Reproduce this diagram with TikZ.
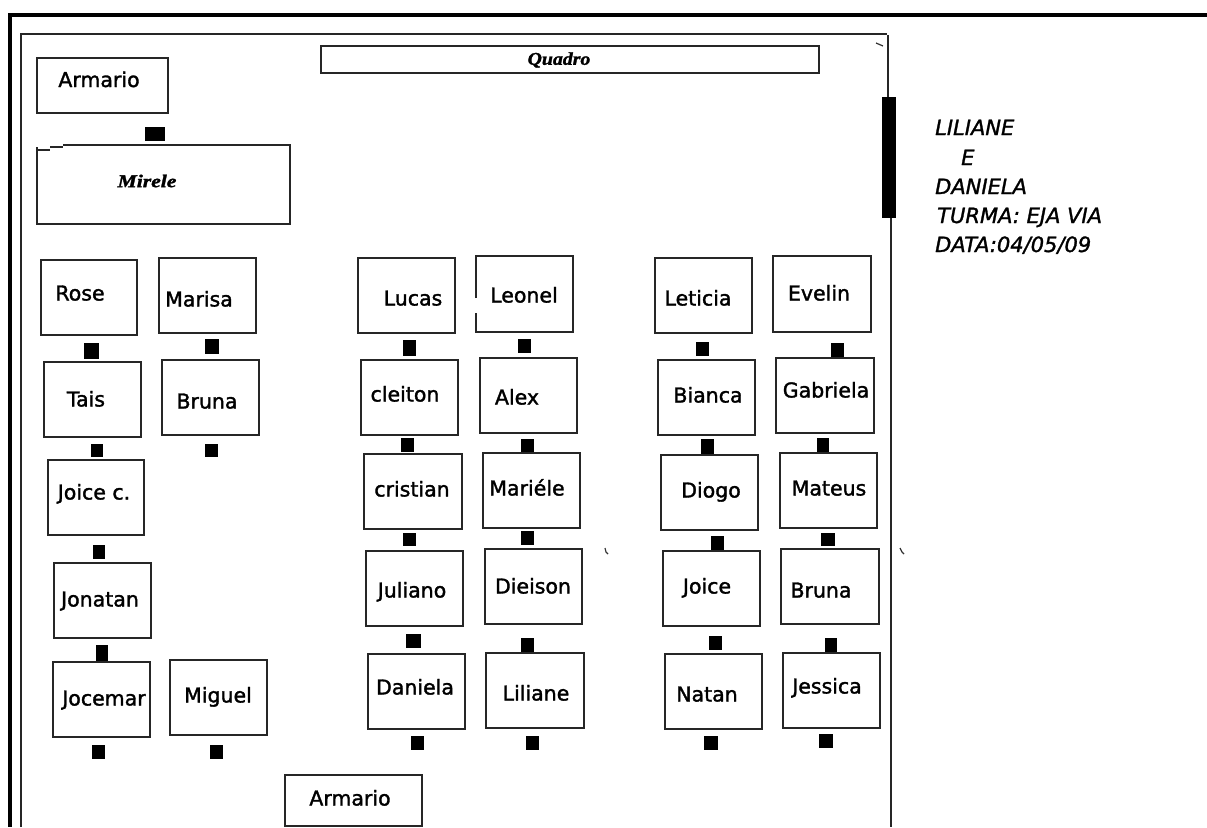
\documentclass[tikz,border=0pt]{standalone}
\usepackage{fontspec}
\setmainfont{DejaVu Sans}[FakeBold=1.6]
\newfontfamily\namefont{DejaVu Sans}[FakeBold=1.6]
\newfontfamily\sidefont{DejaVu Sans}[FakeBold=1.4]
\newfontfamily\decofont{Liberation Serif}[FakeBold=1.5]
\tikzset{
  seat/.style={draw=black!85, line width=1.6pt, inner sep=0pt},
  seatplain/.style={draw=none, inner sep=0pt},
  nm/.style={font=\namefont\fontsize{20.5}{24}\selectfont, anchor=base, inner sep=0pt},
  side/.style={font=\sidefont\itshape\fontsize{21}{24}\selectfont, anchor=base west, inner sep=0pt},
  deco/.style={font=\decofont\bfseries\itshape\fontsize{18}{20}\selectfont, inner sep=0pt},
  frameline/.style={draw=black!85, line width=1.5pt},
  chairsq/.style={fill=black}
}
% id, x1, y1, x2, y2, text centre x, text centre y, text
\newcommand\seatbox[8]{%
  \node[seat, minimum width={#4-#2}, minimum height={#5-#3}] (#1) at ({(#2+#4)/2},{(#3+#5)/2}) {};
  \node[nm] (#1-t) at (#6,{#7+7.5}) {#8};}
\newcommand\chairat[4]{\fill[chairsq] (#1,#2) rectangle (#3,#4);}
\begin{document}
\begin{tikzpicture}[x=1pt,y=-1pt]
\useasboundingbox (0,0) rectangle (1207,827);
\fill[white] (0,0) rectangle (1207,827);
% outer thick frame
\fill[black] (8,13) rectangle (1207,17);
\fill[black] (8,13) rectangle (12,827);
% inner frame
\draw[frameline] (21,827) -- (21,34) -- (887,34);
\draw[frameline] (888,35) -- (888,97);
\fill[black] (882,97) rectangle (896,218);
\draw[frameline] (891,218) -- (891,827);
\draw[black!80, line width=1.2pt] (876,43) -- (883,46);
% stray marks
\draw[black!80, line width=1.2pt] (605,548) -- (606,552) -- (608,554);
\draw[black!80, line width=1.2pt] (900,548) -- (902,552) -- (904,554);
% Quadro
\node[seat, minimum width=498, minimum height=27] (quadro) at (570,59.5) {};
\node[deco] (quadro-t) at (559,60) {\scalebox{1.1}[1]{Quadro}};
% Armario top-left
\seatbox{armA}{37}{58}{168}{113}{99}{79.5}{Armario}
\chairat{145}{127}{165}{141}
% Mirele desk
\node[seatplain, minimum width=253, minimum height=79] (mesa) at (163.5,184.5) {};
\draw[seat] (63,145) -- (290,145) -- (290,224) -- (37,224) -- (37,147);
\draw[seat] (37,150) -- (50,150);
\draw[seat] (50,147) -- (63,147);
\node[deco] (mesa-t) at (147,181) {\scalebox{1.2}[1]{Mirele}};
% left group
\seatbox{rose}{41}{260}{137}{335}{80}{293}{Rose}
\seatbox{marisa}{159}{258}{256}{333}{199}{299}{Marisa}
\chairat{84}{343}{99}{359}
\chairat{205}{339}{219}{354}
\seatbox{tais}{44}{362}{141}{437}{86}{399}{Tais}
\seatbox{brunaL}{162}{360}{259}{435}{207}{401}{Bruna}
\chairat{91}{444}{103}{457}
\chairat{205}{444}{218}{457}
\seatbox{joicec}{48}{460}{144}{535}{94}{492}{Joice c.}
\chairat{93}{545}{105}{559}
\seatbox{jonatan}{54}{563}{151}{638}{100}{599}{Jonatan}
\chairat{96}{645}{108}{662}
\seatbox{jocemar}{53}{662}{150}{737}{104}{698}{Jocemar}
\seatbox{miguel}{170}{660}{267}{735}{218}{695}{Miguel}
\chairat{92}{745}{105}{759}
\chairat{210}{745}{223}{759}
% middle group
\seatbox{lucas}{358}{258}{455}{333}{413}{298}{Lucas}
\node[seatplain, minimum width=97, minimum height=76] (leonel) at (524.5,294) {};
\draw[seat] (476,298) -- (476,256) -- (573,256) -- (573,332) -- (476,332) -- (476,313);
\node[nm] (leonel-t) at (524,302.5) {Leonel};
\chairat{403}{340}{416}{356}
\chairat{518}{339}{531}{353}
\seatbox{cleiton}{361}{360}{458}{435}{405}{394}{cleiton}
\seatbox{alex}{480}{358}{577}{433}{517}{397}{Alex}
\chairat{401}{438}{414}{452}
\chairat{521}{439}{534}{453}
\seatbox{cristian}{364}{454}{462}{529}{412}{489}{cristian}
\seatbox{mariele}{483}{453}{580}{528}{527}{488}{Mariéle}
\chairat{403}{533}{416}{546}
\chairat{521}{531}{534}{545}
\seatbox{juliano}{366}{551}{463}{626}{412}{590}{Juliano}
\seatbox{dieison}{485}{549}{582}{624}{533}{586}{Dieison}
\chairat{406}{634}{421}{648}
\chairat{521}{638}{534}{653}
\seatbox{daniela}{368}{654}{465}{729}{415}{687}{Daniela}
\seatbox{liliane}{486}{653}{584}{728}{536}{693}{Liliane}
\chairat{411}{736}{424}{750}
\chairat{526}{736}{539}{750}
% right group
\seatbox{leticia}{655}{258}{752}{333}{698}{298}{Leticia}
\seatbox{evelin}{773}{256}{871}{332}{819}{293}{Evelin}
\chairat{696}{342}{709}{356}
\chairat{831}{343}{844}{358}
\seatbox{bianca}{658}{360}{755}{435}{708}{395}{Bianca}
\seatbox{gabriela}{776}{358}{874}{433}{826}{390}{Gabriela}
\chairat{701}{439}{714}{455}
\chairat{817}{438}{829}{453}
\seatbox{diogo}{661}{455}{758}{530}{711}{490}{Diogo}
\seatbox{mateus}{780}{453}{877}{528}{829}{488}{Mateus}
\chairat{711}{536}{724}{551}
\chairat{821}{533}{835}{546}
\seatbox{joice}{663}{551}{760}{626}{707}{586}{Joice}
\seatbox{brunaR}{781}{549}{879}{624}{821}{590}{Bruna}
\chairat{709}{636}{722}{650}
\chairat{825}{638}{837}{653}
\seatbox{natan}{665}{654}{762}{729}{707}{694}{Natan}
\seatbox{jessica}{783}{653}{880}{728}{827}{686}{Jessica}
\chairat{704}{736}{718}{750}
\chairat{819}{734}{833}{748}
% Armario bottom
\seatbox{armB}{285}{775}{422}{826}{350}{798}{Armario}
% side text
\node[side] (s1) at (935,135) {LILIANE};
\node[side] (s2) at (961,165) {E};
\node[side] (s3) at (935,194) {DANIELA};
\node[side] (s4) at (937,223) {TURMA: EJA VIA};
\node[side] (s5) at (935,252) {DATA:04/05/09};
\end{tikzpicture}
\end{document}
